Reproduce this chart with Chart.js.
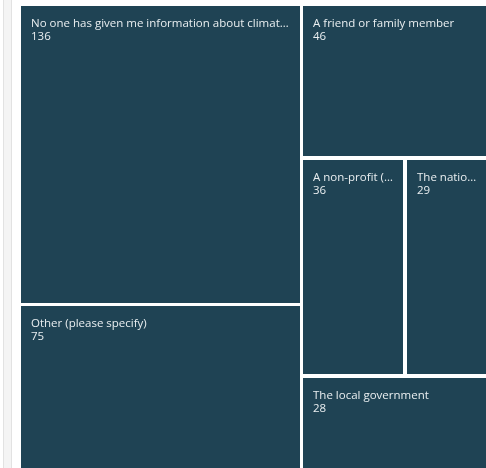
<!DOCTYPE html>
<html>

<head>
  <meta name="viewport" content="width=device-width,initial-scale=1.0">
  <title>Treemap</title>
  <style>
    html,
    body {
      margin: 0;
      padding: 0;
      background: #fff;
      overflow: hidden;
    }

    .rail {
      position: absolute;
      left: 3px;
      top: 0;
      width: 7px;
      height: 468px;
      background: #f4f4f4;
      border-left: 1px solid #e2e2e2;
      border-right: 1px solid #e2e2e2;
    }

    .chart-box {
      position: absolute;
      left: 0;
      top: 0;
      width: 488px;
      height: 470px;
    }
  </style>
</head>

<body>
  <div class="rail"></div>
  <div class="chart-box">
    <canvas id="treemap"></canvas>
  </div>

  <script src="https://cdn.jsdelivr.net/npm/chart.js"></script>

  <script>
    const labels = [
      'No one has given me information about climate change',
      'Other (please specify)',
      'A friend or family member',
      'A non-profit (e.g. an environmental group)',
      'The national government',
      'The local government'
    ];
    const values = [136, 75, 46, 36, 29, 28];
    // nesting of the cells: columns first, then rows inside, and so on
    const layoutGroups = [[0, 1], [2, [3, 4], 5]];

    const cellColor = '#1f4354';
    const textColor = '#e9eef0';

    function groupSum(node) {
      return Array.isArray(node) ? node.reduce((s, n) => s + groupSum(n), 0) : values[node];
    }

    // slice-and-dice over the group tree, in 0..1 units on both axes
    function layout(node, x0, y0, x1, y1, alongX, out) {
      if (!Array.isArray(node)) {
        out[node] = { x0, y0, x1, y1 };
        return out;
      }
      const total = groupSum(node);
      let pos = alongX ? x0 : y0;
      node.forEach(child => {
        const span = (alongX ? x1 - x0 : y1 - y0) * groupSum(child) / total;
        if (alongX) layout(child, pos, y0, pos + span, y1, !alongX, out);
        else layout(child, x0, pos, x1, pos + span, !alongX, out);
        pos += span;
      });
      return out;
    }

    const cells = layout(layoutGroups, 0, 0, 1, 1, true, []);

    function fitText(ctx, text, maxWidth) {
      if (ctx.measureText(text).width <= maxWidth) return text;
      let t = text;
      while (t.length > 0 && ctx.measureText(t + '…').width > maxWidth) t = t.slice(0, -1);
      return t.trimEnd() + '…';
    }

    const treemapCells = {
      id: 'treemapCells',
      afterDatasetsDraw(chart) {
        const { ctx, scales: { x, y } } = chart;
        const gap = 1.75;
        ctx.save();
        cells.forEach((c, i) => {
          const left = Math.round(x.getPixelForValue(c.x0) + gap);
          const right = Math.round(x.getPixelForValue(c.x1) - gap);
          const top = Math.round(y.getPixelForValue(c.y0) + gap);
          const bottom = Math.round(y.getPixelForValue(c.y1) - gap);
          ctx.fillStyle = cellColor;
          ctx.fillRect(left, top, right - left, bottom - top);

          ctx.fillStyle = textColor;
          ctx.font = '11.5px "Open Sans"';
          ctx.textAlign = 'left';
          ctx.textBaseline = 'alphabetic';
          ctx.fillText(fitText(ctx, labels[i], right - left - 16), left + 10, top + 21);
          ctx.fillText(String(values[i]), left + 10, top + 34);
        });
        ctx.restore();
      }
    };

    new Chart(document.getElementById('treemap'), {
      type: 'scatter',
      data: {
        datasets: [{
          label: 'Responses',
          data: cells.map((c, i) => ({ x: (c.x0 + c.x1) / 2, y: (c.y0 + c.y1) / 2, v: values[i] })),
          pointRadius: 0,
          pointHoverRadius: 0
        }]
      },
      options: {
        responsive: true,
        maintainAspectRatio: false,
        animation: false,
        layout: { padding: { left: 19, top: 4, right: 0, bottom: 0 } },
        scales: {
          x: { type: 'linear', min: 0, max: 1, display: false },
          y: { type: 'linear', min: 0, max: 1, reverse: true, display: false }
        },
        plugins: {
          legend: { display: false },
          tooltip: { enabled: false }
        }
      },
      plugins: [treemapCells]
    });
  </script>
</body>

</html>
